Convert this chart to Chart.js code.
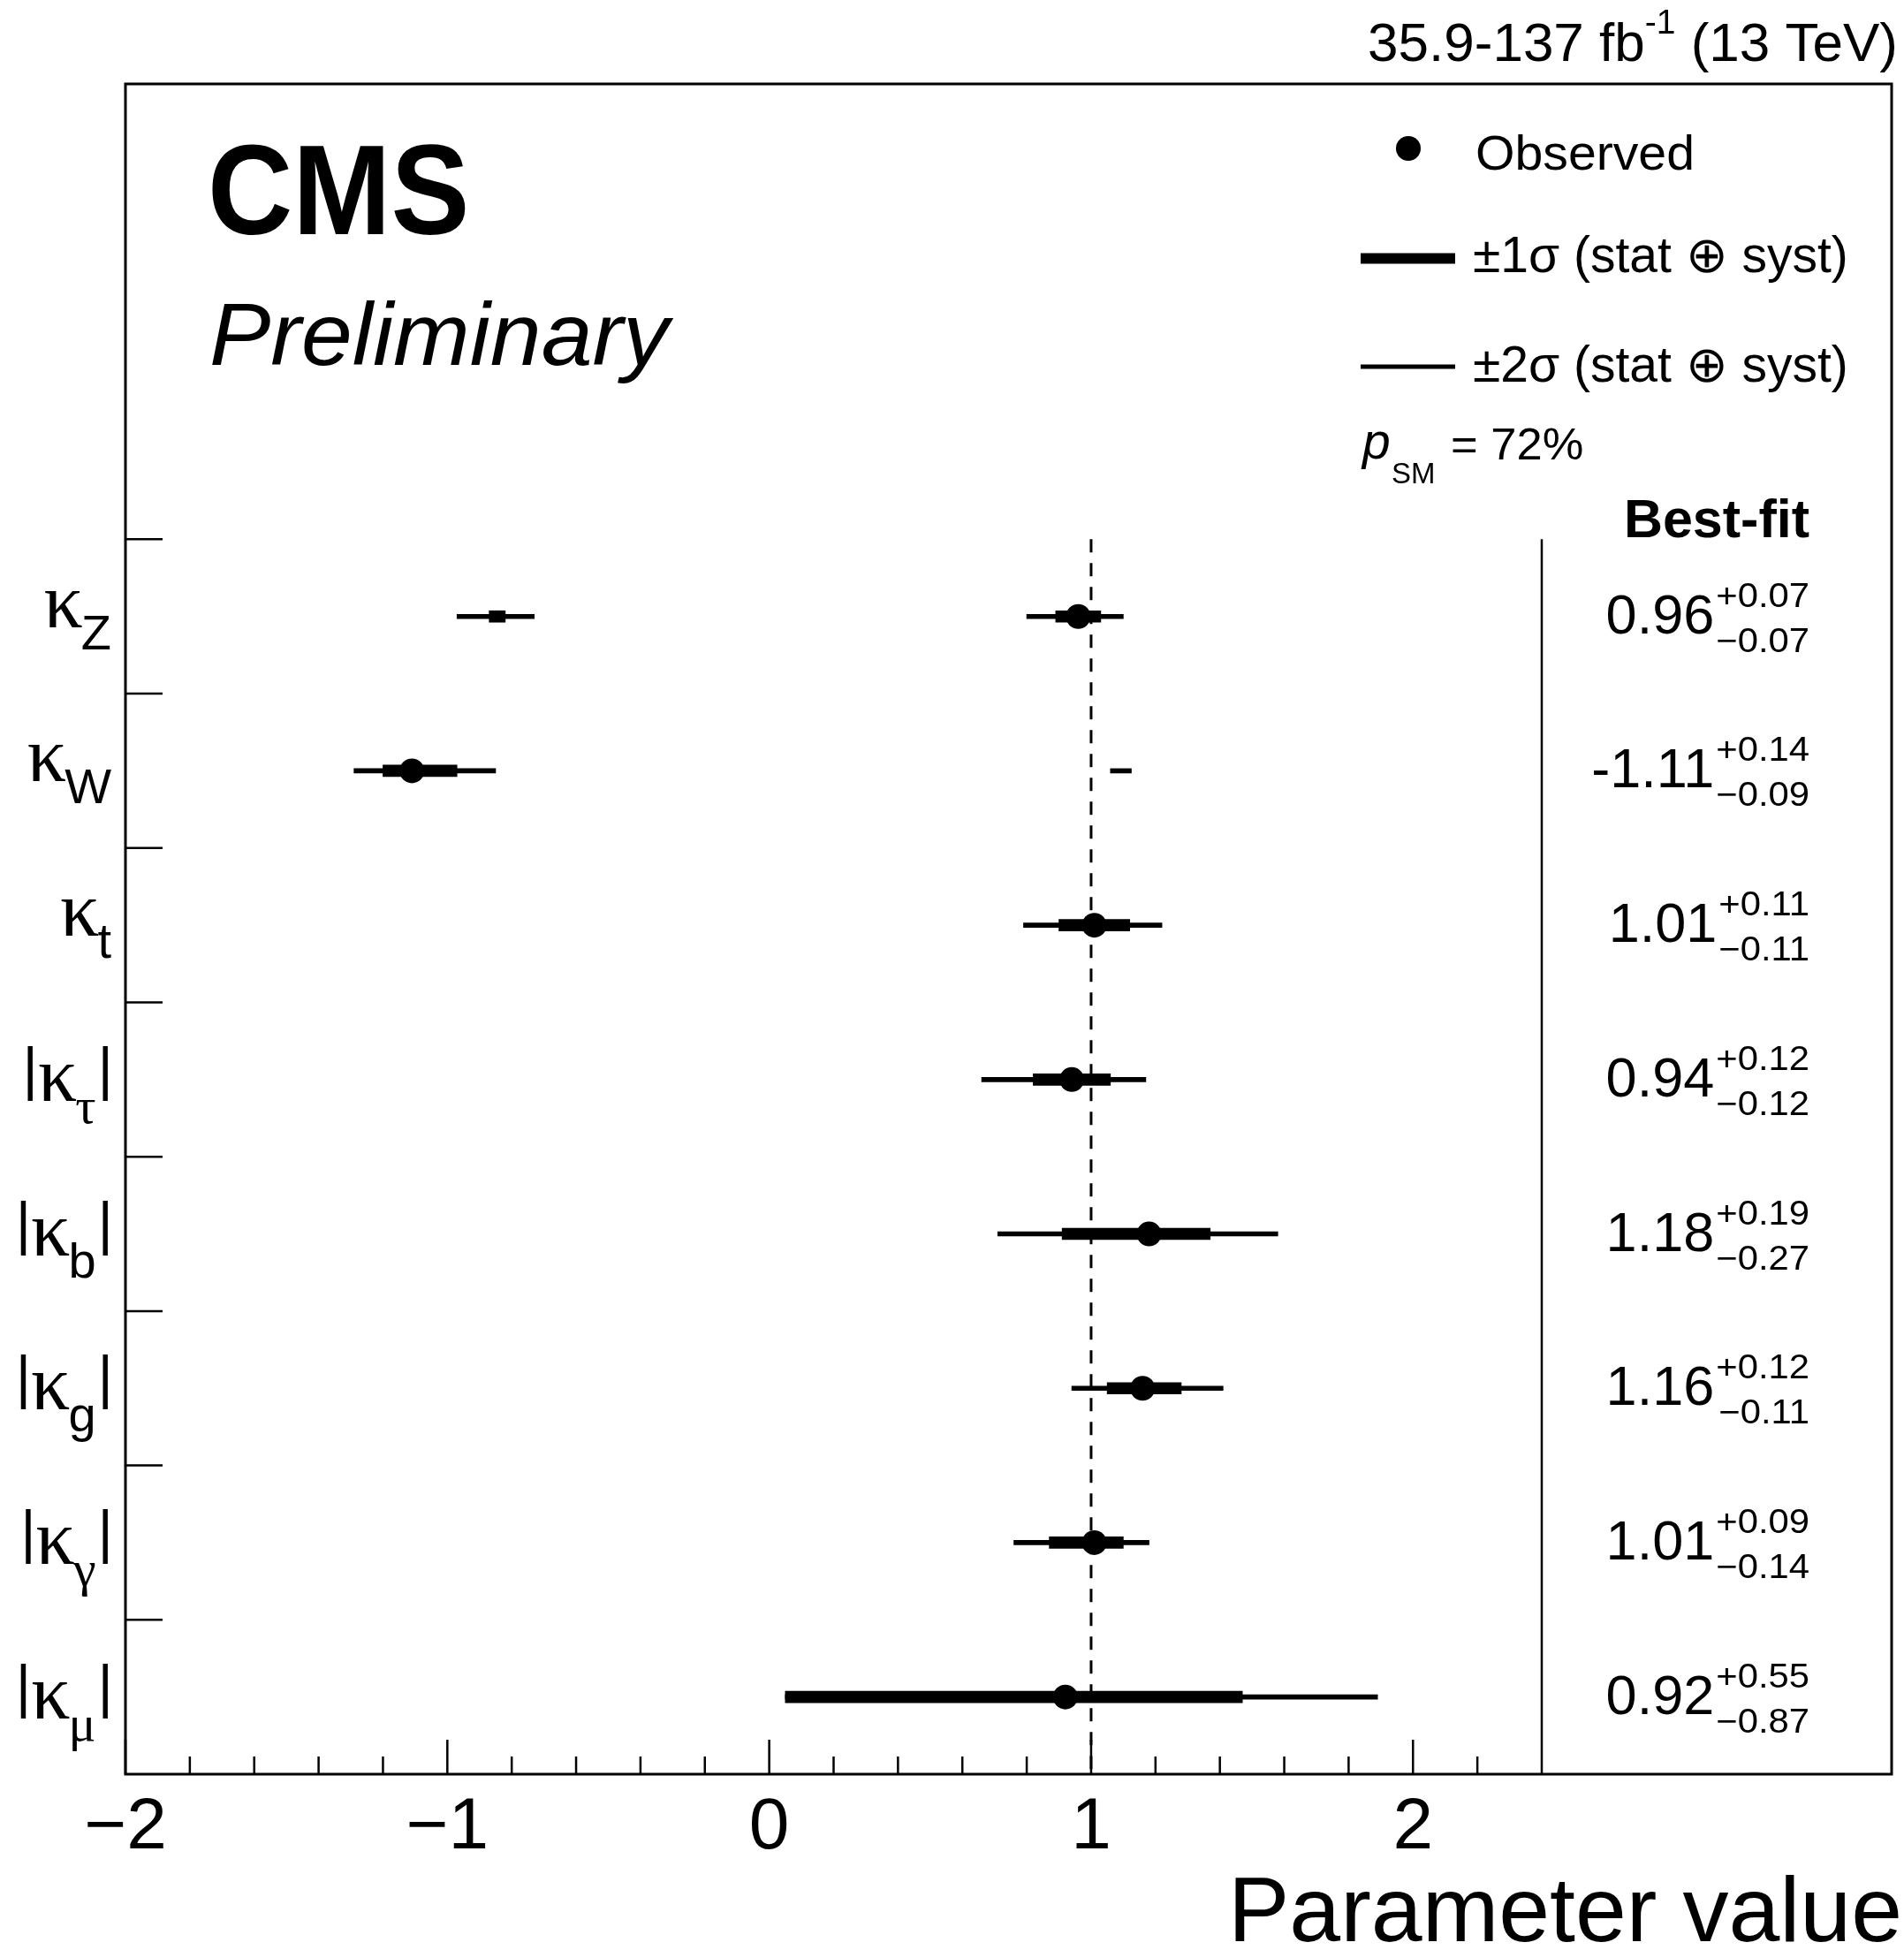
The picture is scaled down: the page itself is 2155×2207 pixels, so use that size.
<!DOCTYPE html>
<html>
<head>
<meta charset="utf-8">
<script src="https://cdn.jsdelivr.net/npm/chart.js@4.4.1/dist/chart.umd.min.js"></script>
<style>
html,body{margin:0;padding:0;background:#fff;}
#wrap{width:2155px;height:2207px;position:relative;}
</style>
</head>
<body>
<div id="wrap"><canvas id="c" width="2155" height="2207"></canvas></div>
<script>
// ---------------- data ----------------
const parameters = ['κZ', 'κW', 'κt', '|κτ|', '|κb|', '|κg|', '|κγ|', '|κμ|'];
const labelSub   = ['Z', 'W', 't', 'τ', 'b', 'g', 'γ', 'μ'];
const labelAbs   = [false, false, false, true, true, true, true, true];
const bestFit    = [0.96, -1.11, 1.01, 0.94, 1.18, 1.16, 1.01, 0.92];
const sigma1Lo   = [0.89, -1.20, 0.90, 0.82, 0.91, 1.05, 0.87, 0.05];
const sigma1Hi   = [1.03, -0.97, 1.12, 1.06, 1.37, 1.28, 1.10, 1.47];
const sigma2Lo   = [0.80, -1.29, 0.79, 0.66, 0.71, 0.94, 0.76, 0.05];
const sigma2Hi   = [1.10, -0.85, 1.22, 1.17, 1.58, 1.41, 1.18, 1.89];
// secondary (disjoint) intervals
const extraRow   = [0, 1];            // index into parameters (κZ, κW)
const extra1Lo   = [-0.87, null];
const extra1Hi   = [-0.82, null];
const extra2Lo   = [-0.97, 1.06];
const extra2Hi   = [-0.73, 1.125];
// printed best-fit column
const bestFitText = ['0.96', '-1.11', '1.01', '0.94', '1.18', '1.16', '1.01', '0.92'];
const upText      = ['+0.07', '+0.14', '+0.11', '+0.12', '+0.19', '+0.12', '+0.09', '+0.55'];
const downText    = ['\u22120.07', '\u22120.09', '\u22120.11', '\u22120.12', '\u22120.27', '\u22120.11', '\u22120.14', '\u22120.87'];
// axis
const xTickValues = [-2, -1, 0, 1, 2];
const xTickLabels = ['\u22122', '\u22121', '0', '1', '2'];
const smValue = 1;
const separatorValue = 2.4;
const X_MIN = -2, X_MAX = 3.487;
const Y_MIN = 0, Y_MAX = 10.95;

// ---------------- helpers ----------------
const SANS = '"Liberation Sans", Arial, Helvetica, sans-serif';
const SERIF = '"Liberation Serif", "Times New Roman", serif';
const nRows = parameters.length;
const rowY = parameters.map((_, i) => nRows - i - 0.5);

function txt(ctx, s, x, y, font, align, sx) {
  ctx.save();
  ctx.font = font;
  ctx.textAlign = align || 'left';
  ctx.textBaseline = 'alphabetic';
  ctx.fillStyle = '#000';
  ctx.translate(x, y);
  ctx.scale(sx || 1, 1);
  ctx.fillText(s, 0, 0);
  ctx.restore();
}
function tw(ctx, s, font, sx) {
  ctx.save(); ctx.font = font;
  const w = ctx.measureText(s).width * (sx || 1);
  ctx.restore();
  return w;
}

// ---------------- datasets ----------------
const data1 = rowY.map((y, i) => ({ x: [sigma1Lo[i], sigma1Hi[i]], y }));
const data2 = rowY.map((y, i) => ({ x: [sigma2Lo[i], sigma2Hi[i]], y }));
extraRow.forEach((r, k) => {
  if (extra1Lo[k] !== null) data1.push({ x: [extra1Lo[k], extra1Hi[k]], y: rowY[r] });
  if (extra2Lo[k] !== null) data2.push({ x: [extra2Lo[k], extra2Hi[k]], y: rowY[r] });
});
const dataObs = rowY.map((y, i) => ({ x: bestFit[i], y }));

// ---------------- decoration plugin ----------------
const decor = {
  id: 'cmsDecor',
  beforeDatasetsDraw(chart) {
    const { ctx, scales: { x, y } } = chart;
    ctx.save();
    ctx.strokeStyle = '#000';
    ctx.lineWidth = 3;
    ctx.setLineDash([15, 12]);
    const xs = x.getPixelForValue(smValue);
    ctx.beginPath();
    ctx.moveTo(xs, y.getPixelForValue(nRows));
    ctx.lineTo(xs, y.getPixelForValue(Y_MIN));
    ctx.stroke();
    ctx.setLineDash([]);
    ctx.lineWidth = 2.5;
    const xp = x.getPixelForValue(separatorValue);
    ctx.beginPath();
    ctx.moveTo(xp, y.getPixelForValue(nRows));
    ctx.lineTo(xp, y.getPixelForValue(Y_MIN));
    ctx.stroke();
    ctx.restore();
  },
  afterDatasetsDraw(chart) {
    const { ctx, chartArea: a, scales: { x, y } } = chart;
    ctx.save();
    ctx.strokeStyle = '#000';
    // frame
    ctx.lineWidth = 3;
    ctx.strokeRect(a.left, a.top, a.right - a.left, a.bottom - a.top);
    // x ticks (inside, pointing up)
    ctx.lineWidth = 2.5;
    for (let k = 0; k <= 21; k++) {
      const v = -2 + k * 0.2;
      const major = Math.abs(v - Math.round(v)) < 1e-6;
      const px = x.getPixelForValue(v);
      ctx.beginPath();
      ctx.moveTo(px, a.bottom);
      ctx.lineTo(px, a.bottom - (major ? 39 : 20));
      ctx.stroke();
    }
    // y ticks (inside, pointing right)
    for (let k = 1; k <= nRows; k++) {
      const py = y.getPixelForValue(k);
      ctx.beginPath();
      ctx.moveTo(a.left, py);
      ctx.lineTo(a.left + 42, py);
      ctx.stroke();
    }
    ctx.restore();

    // x tick labels
    xTickValues.forEach((v, i) => {
      txt(ctx, xTickLabels[i], x.getPixelForValue(v), 2092, '82px ' + SANS, 'center');
    });
    // x axis title
    txt(ctx, 'Parameter value', 2153, 2197, '104px ' + SANS, 'right');

    // y labels
    const kFont = '88px ' + SERIF;
    const barFont = '67px ' + SANS;
    parameters.forEach((p, i) => {
      const yc = y.getPixelForValue(rowY[i]);
      const abs = labelAbs[i];
      const greekSub = /[\u0370-\u03ff]/.test(labelSub[i]);
      const subFont = greekSub ? '58px ' + SERIF : '56px ' + SANS;
      const b = yc + (abs ? 24 : 12);
      const wBar = abs ? tw(ctx, '|', barFont) : 0;
      const wK = tw(ctx, 'κ', kFont);
      const wS = tw(ctx, labelSub[i], subFont);
      const right = 128;
      let cx = right - (wBar * 2 + wK + wS);
      if (abs) { txt(ctx, '|', cx, b - 14, barFont); cx += wBar; }
      txt(ctx, 'κ', cx, b, kFont); cx += wK - 2;
      txt(ctx, labelSub[i], cx, b + 25, subFont); cx += wS + 2;
      if (abs) { txt(ctx, '|', cx, b - 14, barFont); }
    });

    // best-fit column
    const colRight = 2048;
    txt(ctx, 'Best-fit', colRight, 608, 'bold 61px ' + SANS, 'right');
    const mainFont = '63px ' + SANS;
    const smallFont = '38px ' + SANS;
    const ssx = 1.1;
    parameters.forEach((p, i) => {
      const yc = y.getPixelForValue(rowY[i]);
      const wu = tw(ctx, upText[i], smallFont, ssx);
      const wd = tw(ctx, downText[i], smallFont, ssx);
      const ws = Math.max(wu, wd);
      txt(ctx, upText[i], colRight - wu, yc - 11, smallFont, 'left', ssx);
      txt(ctx, downText[i], colRight - wd, yc + 40, smallFont, 'left', ssx);
      txt(ctx, bestFitText[i], colRight - ws - 2, yc + 19, mainFont, 'right');
    });

    // CMS / Preliminary
    txt(ctx, 'CMS', 235, 265, 'bold 145px ' + SANS, 'left', 0.92);
    txt(ctx, 'Preliminary', 237, 413, 'italic 100px ' + SANS, 'left', 1.04);

    // luminosity label
    const lf = '62px ' + SANS, lsf = '39px ' + SANS;
    const p1 = '35.9-137 fb', p2 = '-1', p3 = ' (13 TeV)';
    const w1 = tw(ctx, p1, lf), w2 = tw(ctx, p2, lsf), w3 = tw(ctx, p3, lf);
    let lx = 2148 - (w1 + w2 + w3);
    txt(ctx, p1, lx, 69, lf); lx += w1;
    txt(ctx, p2, lx, 38, lsf); lx += w2;
    txt(ctx, p3, lx, 69, lf);

    // legend
    ctx.save();
    ctx.fillStyle = '#000';
    ctx.beginPath(); ctx.arc(1594, 168, 14, 0, Math.PI * 2); ctx.fill();
    ctx.fillRect(1540, 286.5, 107, 12);
    ctx.fillRect(1540, 412.5, 107, 5);
    ctx.restore();
    const legFont = '55px ' + SANS;
    txt(ctx, 'Observed', 1670, 192, legFont, 'left', 1.04);
    txt(ctx, '\u00B11\u03C3 (stat \u2295 syst)', 1667, 308, '57px ' + SANS);
    txt(ctx, '\u00B12\u03C3 (stat \u2295 syst)', 1667, 432, '57px ' + SANS);
    txt(ctx, 'p', 1542, 519, 'italic 57px ' + SANS);
    txt(ctx, 'SM', 1575, 547, '33px ' + SANS);
    txt(ctx, '= 72%', 1642, 520, '50px ' + SANS, 'left', 1.05);
  }
};

// ---------------- chart ----------------
new Chart(document.getElementById('c'), {
  type: 'bar',
  data: {
    datasets: [
      { type: 'scatter', label: 'Observed', data: dataObs, pointRadius: 14, pointHoverRadius: 14,
        pointBackgroundColor: '#000', pointBorderWidth: 0, backgroundColor: '#000', order: 0 },
      { type: 'bar', label: '\u00B11\u03C3 (stat \u2295 syst)', indexAxis: 'y', data: data1,
        grouped: false, barPercentage: 1, categoryPercentage: 1, maxBarThickness: 13,
        backgroundColor: '#000', borderWidth: 0, order: 1 },
      { type: 'bar', label: '\u00B12\u03C3 (stat \u2295 syst)', indexAxis: 'y', data: data2,
        grouped: false, barPercentage: 1, categoryPercentage: 1, maxBarThickness: 5,
        backgroundColor: '#000', borderWidth: 0, order: 2 }
    ]
  },
  options: {
    indexAxis: 'y',
    responsive: false,
    animation: false,
    events: [],
    layout: { padding: { left: 142, right: 8, top: 95, bottom: 199 } },
    plugins: { legend: { display: false }, tooltip: { enabled: false }, title: { display: false } },
    scales: {
      x: { type: 'linear', min: X_MIN, max: X_MAX, display: false, offset: false, grid: { offset: false } },
      y: { type: 'linear', min: Y_MIN, max: Y_MAX, display: false, offset: false, grid: { offset: false }, ticks: { stepSize: 1 } }
    }
  },
  plugins: [decor]
});
</script>
</body>
</html>
